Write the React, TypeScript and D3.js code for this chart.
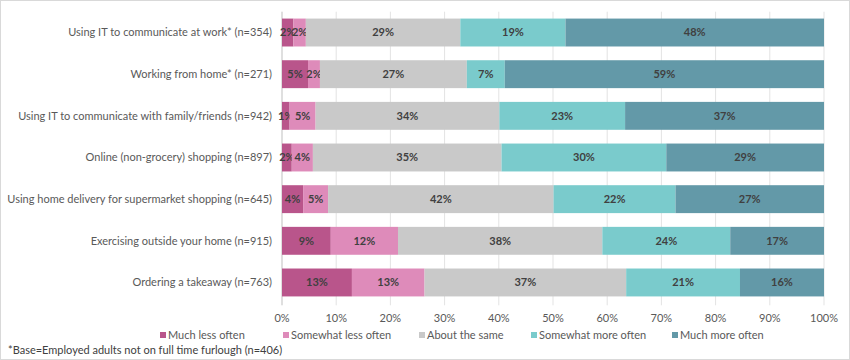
import React from "react";
import * as d3 from "d3";

const categories = [
  "Using IT to communicate at work* (n=354)",
  "Working from home* (n=271)",
  "Using IT to communicate with family/friends (n=942)",
  "Online (non-grocery) shopping (n=897)",
  "Using home delivery for supermarket shopping (n=645)",
  "Exercising outside your home (n=915)",
  "Ordering a takeaway (n=763)",
];
const seriesNames = [
  "Much less often",
  "Somewhat less often",
  "About the same",
  "Somewhat more often",
  "Much more often",
];
const muchLess = [2.1, 4.8, 1.4, 1.8, 3.9, 9.0, 12.9];
const somewhatLess = [2.3, 2.2, 4.8, 3.9, 4.6, 12.4, 13.4];
const aboutSame = [28.5, 27.1, 33.9, 34.8, 41.6, 37.7, 37.2];
const somewhatMore = [19.4, 7.0, 23.2, 30.4, 22.5, 23.6, 21.0];
const muchMore = [47.7, 58.9, 36.7, 29.1, 27.4, 17.3, 15.5];
const tickValues = [0, 10, 20, 30, 40, 50, 60, 70, 80, 90, 100];
const footnote = "*Base=Employed adults not on full time furlough (n=406)";

const colors = ["#B9558B", "#DE8BBA", "#C9C9C9", "#7ACBCC", "#6399A8"];
const legendX = [160, 283, 419, 531, 672];

export default function App() {
  const W = 850, H = 360;
  const left = 282, right = 824, top = 11.7, bottom = 303.3;
  const x = d3.scaleLinear().domain([0, 100]).range([left, right]);
  const y = d3.scaleBand().domain(categories).range([top, bottom]).paddingInner(0.33).paddingOuter(0.165);
  const series = [muchLess, somewhatLess, aboutSame, somewhatMore, muchMore];
  const rows = categories.map((c, i) => {
    const obj: any = { cat: c };
    seriesNames.forEach((s, j) => (obj[s] = series[j][i]));
    return obj;
  });
  const stacked = d3.stack().keys(seriesNames)(rows);
  const font = "Lato, 'Open Sans', sans-serif";
  return (
    <svg width={W} height={H} style={{ position: "absolute", left: 0, top: 0, background: "#fff" }} fontFamily={font}>
      <rect x={0.5} y={0.5} width={W - 1} height={H - 1} fill="#fff" stroke="#d9d9d9" />
      {tickValues.map((t) => (
        <line key={t} x1={x(t)} x2={x(t)} y1={top} y2={bottom + 2} stroke={t === 0 ? "#bfbfbf" : "#e3e3e3"} strokeWidth={1} />
      ))}
      {stacked.map((s, j) => (
        <g key={s.key}>
          {s.map((d, i) => {
            const x0 = x(d[0]), x1 = x(d[1]);
            const yy = y(categories[i])!;
            return (
              <g key={i}>
                <rect x={x0} y={yy} width={x1 - x0} height={y.bandwidth()} fill={colors[j]} />
                <text x={(x0 + x1) / 2} y={yy + y.bandwidth() / 2} dy="0.35em" textAnchor="middle" fontSize={11} fontWeight="bold" fill="#404040">
                  {Math.round(d[1] - d[0])}%
                </text>
              </g>
            );
          })}
        </g>
      ))}
      {categories.map((c) => (
        <text key={c} x={272} y={y(c)! + y.bandwidth() / 2} dy="0.35em" textAnchor="end" fontSize={11} fill="#595959">
          {c}
        </text>
      ))}
      {tickValues.map((t) => (
        <text key={t} x={x(t)} y={318} dy="0.35em" textAnchor="middle" fontSize={11} fill="#595959">
          {t}%
        </text>
      ))}
      {seriesNames.map((s, j) => (
        <g key={s}>
          <rect x={legendX[j]} y={332} width={6} height={6} fill={colors[j]} />
          <text x={legendX[j] + 8} y={335} dy="0.35em" fontSize={11} fill="#595959">{s}</text>
        </g>
      ))}
      <text x={8} y={350} dy="0.35em" fontSize={11} fill="#404040">{footnote}</text>
    </svg>
  );
}
